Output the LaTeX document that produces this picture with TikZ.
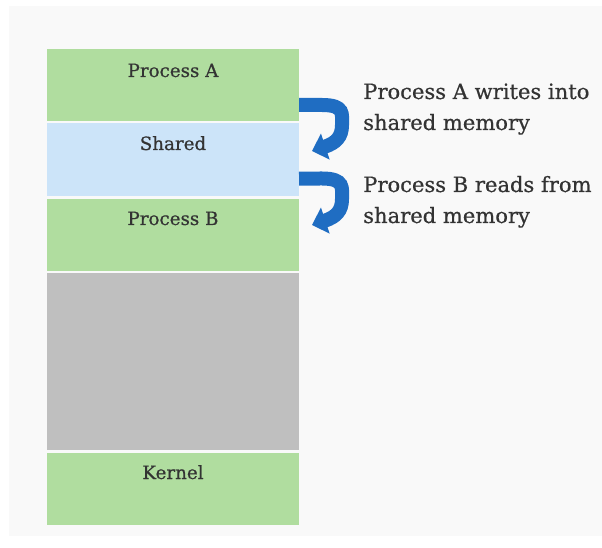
\documentclass[tikz,border=0pt]{standalone}
\usepackage{fontspec}
\setmainfont{DejaVu Serif}
\newfontfamily\memfont{DejaVu Serif}[FakeBold=0.6]
\usetikzlibrary{arrows.meta}

\definecolor{memgreen}{RGB}{176,221,159}
\definecolor{memblue}{RGB}{204,228,249}
\definecolor{memgray}{RGB}{191,191,191}
\definecolor{flowblue}{RGB}{31,109,194}
\definecolor{bgpaper}{RGB}{249,249,249}

\tikzset{
	block/.style={draw=none,minimum width=189pt,inner sep=0pt,outer sep=0pt},
	lbl/.style={anchor=base,inner sep=0pt,text=black!80,font=\memfont\fontsize{13.7}{16}\selectfont},
	note/.style={anchor=base west,inner sep=0pt,align=left,text=black!80,font=\memfont\fontsize{15.8}{23.25}\selectfont},
	flow/.style={draw=flowblue,line width=10.5pt,-{Triangle[length=10.5pt,width=20pt]}}
}

\begin{document}
\begin{tikzpicture}[x=0.75pt,y=0.75pt,yscale=-1,xscale=1]
				\useasboundingbox (0,0) rectangle (602,548);
				%Shape: Rectangle [background]
				\fill [bgpaper] (9,6) rectangle (602,536);

				%Shape: memory blocks
				\node [block,fill=memgreen,minimum height=54pt] (pa) at (173,85) {};
				\node [block,fill=memblue,minimum height=54.75pt] (sh) at (173,160) {};
				\node [block,fill=memgreen,minimum height=54pt] (pb) at (173,235) {};
				\node [block,fill=memgray,minimum height=132.75pt] (gap) at (173,361.5) {};
				\node [block,fill=memgreen,minimum height=54pt] (kn) at (173,489) {};

				% Text Node
				\node [lbl] (palbl) at (173,77) {Process A};
				% Text Node
				\node [lbl] (shlbl) at (173,150) {Shared};
				% Text Node
				\node [lbl] (pblbl) at (173,225) {Process B};
				% Text Node
				\node [lbl] (knlbl) at (173,479) {Kernel};

				%Curve Lines [write]
				\coordinate (wend) at (312,151);
				\draw [flow] ([yshift=15pt]pa.east) -- (322,105) .. controls (345,105) and (342,114) .. (342,125) .. controls (342,137) and (336,143) .. (wend);
				%Curve Lines [read]
				\coordinate (rend) at (312,225);
				\draw [flow] ([yshift=13.9pt]sh.east) -- (322,178.5) .. controls (345,178.5) and (342,188) .. (342,199) .. controls (342,211) and (336,217) .. (rend);

				% Text Node
				\node [note] (wnote) at (363,130) {Process A writes into\\shared memory};
				% Text Node
				\node [note] (rnote) at (363,223) {Process B reads from\\shared memory};
\end{tikzpicture}
\end{document}
